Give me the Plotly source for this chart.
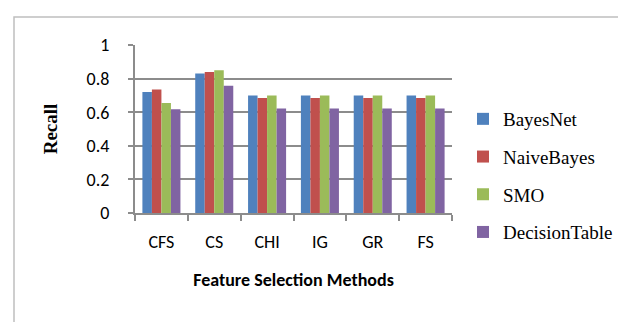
import plotly.graph_objects as go

categories = ["CFS", "CS", "CHI", "IG", "GR", "FS"]
bayesnet = [0.72, 0.83, 0.70, 0.70, 0.70, 0.70]
naivebayes = [0.735, 0.84, 0.685, 0.685, 0.685, 0.685]
smo = [0.655, 0.85, 0.70, 0.70, 0.70, 0.70]
decisiontable = [0.617, 0.757, 0.622, 0.622, 0.622, 0.622]
y_ticks = [0, 0.2, 0.4, 0.6, 0.8, 1]
y_tick_labels = ["0", "0.2", "0.4", "0.6", "0.8", "1"]

series = [
    ("BayesNet", bayesnet, "#4f81bd"),
    ("NaiveBayes", naivebayes, "#c0504d"),
    ("SMO", smo, "#9bbb59"),
    ("DecisionTable", decisiontable, "#8064a2"),
]

fig = go.Figure()
for i, (name, vals, color) in enumerate(series):
    fig.add_trace(go.Bar(x=categories, y=vals, name=name, marker_color=color,
                         marker_line_width=0, legendgroup=f"g{i}"))

L, R, T, B = 127, 182, 37, 117
W, H = 626, 322
pw, ph = W - L - R, H - T - B

def px_x(p):
    return (p - L) / pw

def px_y(p):
    return (H - B - p) / ph

fig.update_layout(
    width=W, height=H,
    margin=dict(l=L, r=R, t=T, b=B, pad=0),
    paper_bgcolor="white", plot_bgcolor="white",
    barmode="group", bargap=0.28, bargroupgap=0,
    font=dict(family="Carlito, Lato, sans-serif", size=14, color="black"),
    legend=dict(x=px_x(455), y=px_y(92), xanchor="left", yanchor="top",
                font=dict(family="Liberation Serif, Times New Roman, serif", size=19),
                traceorder="grouped", tracegroupgap=10, itemwidth=30,
                bgcolor="rgba(0,0,0,0)"),
    xaxis=dict(showline=True, linecolor="#8c8c8c", linewidth=2,
               ticks="outside", tickson="boundaries", ticklen=6, tickcolor="#8c8c8c", tickwidth=2,
               ticklabelstandoff=11, showgrid=False,
               tickfont=dict(size=18),
               title=dict(text="<b>Feature Selection Methods</b>", standoff=22,
                          font=dict(size=18))),
    yaxis=dict(range=[0, 1], tickvals=y_ticks, ticktext=y_tick_labels,
               showline=True, linecolor="#8c8c8c", linewidth=2,
               ticks="outside", ticklen=5, tickcolor="#8c8c8c", tickwidth=2,
               ticklabelstandoff=15,
               showgrid=True, gridcolor="#8c8c8c", gridwidth=2, zeroline=False,
               tickfont=dict(size=18),
               title=dict(text="<b>Recall</b>", standoff=24,
                          font=dict(family="Liberation Serif, Times New Roman, serif", size=19))),
    shapes=[dict(type="rect", xref="paper", yref="paper",
                 x0=px_x(6), x1=px_x(640), y0=px_y(340), y1=px_y(9),
                 line=dict(color="#bfbfbf", width=1.5), layer="below")],
)

fig.write_html("out.html")
